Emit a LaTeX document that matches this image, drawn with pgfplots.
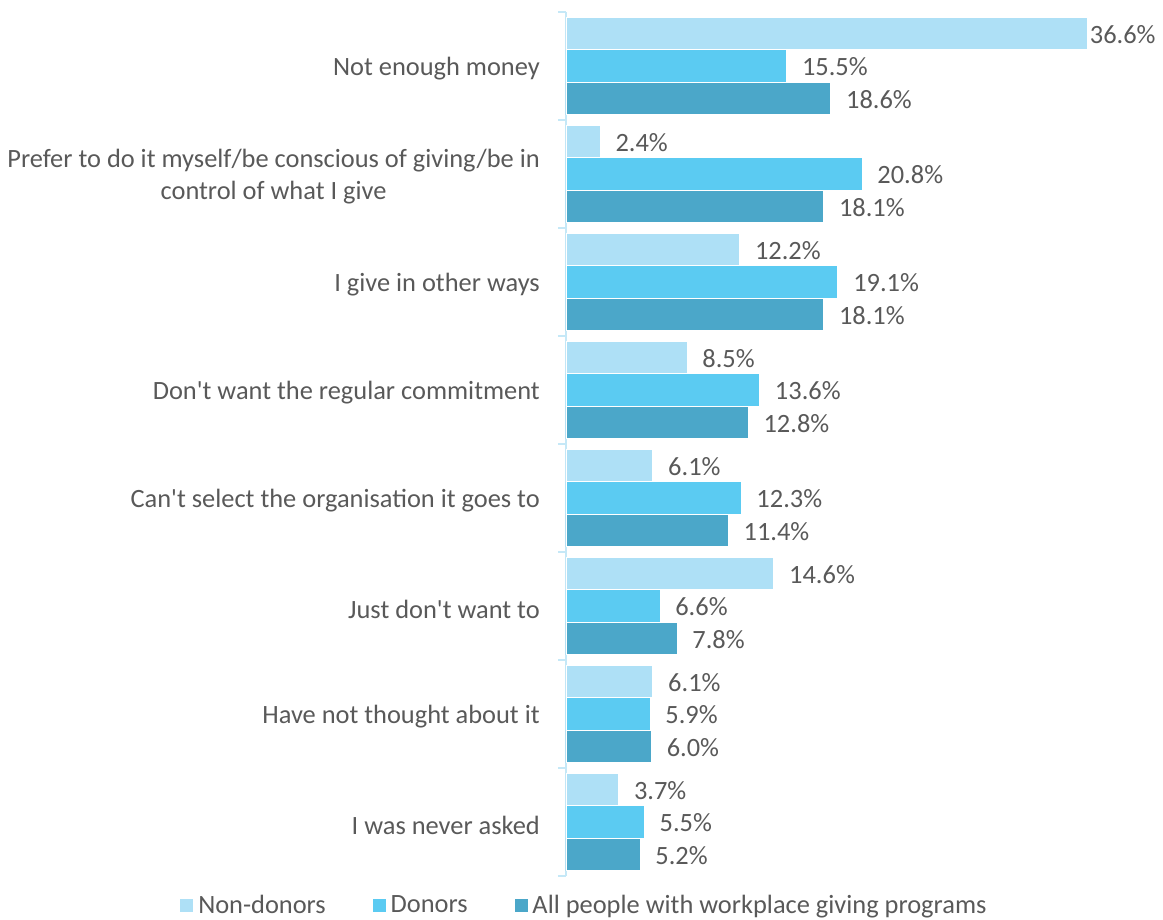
\documentclass[border=0pt]{standalone}
\usepackage{pgfplots}
\pgfplotsset{compat=1.18}
\usepackage{pgfplotstable}
\usepackage{fontspec}
\setmainfont{Carlito}[Ligatures=TeXOff]
\definecolor{cA}{HTML}{AEE0F6}
\definecolor{cB}{HTML}{5BCBF2}
\definecolor{cC}{HTML}{4BA7C9}
\definecolor{axc}{HTML}{C5E8F7}
\definecolor{txt}{HTML}{595959}
\newcommand\lf{\fontsize{26.4}{32}\selectfont}
\pgfplotstableread{
y x off
0 36.6 2.5
1 2.4 15
2 12.2 15
3 8.5 15
4 6.1 15
5 14.6 15
6 6.1 15
7 3.7 15
}\nondonors
\pgfplotstableread{
y x off
0 15.5 15
1 20.8 15
2 19.1 15
3 13.6 15
4 12.3 15
5 6.6 15
6 5.9 15
7 5.5 15
}\donors
\pgfplotstableread{
y x off
0 18.6 15
1 18.1 15
2 18.1 15
3 12.8 15
4 11.4 15
5 7.8 15
6 6.0 15
7 5.2 15
}\allpeople
\begin{document}
\begin{tikzpicture}
\useasboundingbox (-566pt,-44pt) rectangle (597pt,876pt);
\begin{axis}[
  scale only axis, width=521pt, height=864pt,
  xmin=0, xmax=36.6, ymin=-0.5, ymax=7.5, y dir=reverse,
  xbar, bar width=32.5pt,
  hide x axis, axis y line*=left,
  axis line style={axc, line width=1.5pt},
  ytick={0,...,7},
  yticklabels={{Not enough money},{Prefer to do it myself/be conscious of giving/be in\\control of what I give},{I give in other ways},{Don't want the regular commitment},{Can't select the organisation it goes to},{Just don't want to},{Have not thought about it},{I was never asked}},
  yticklabel style={align=center, inner sep=0pt, xshift=-26pt, yshift=-3pt, font=\lf, text=txt},
  major tick length=0pt, major tick style={draw=none},
  minor ytick={-0.5,0.5,...,7.5}, minor tick length=8pt, tick align=outside,
  minor tick style={axc, line width=1.5pt},
  point meta=x,
  visualization depends on={\thisrow{off} \as \off},
  nodes near coords={\pgfmathprintnumber[fixed,fixed zerofill,precision=1,assume math mode=true]{\pgfplotspointmeta}\%},
  nodes near coords style={anchor=west, inner sep=0pt, xshift=\off pt, yshift=-1pt, font=\lf, text=txt},
  legend style={at={(axis description cs:0.0345,-0.0336)}, anchor=center, draw=none, fill=none, legend columns=-1, font=\lf, text=txt, /tikz/every even column/.append style={column sep=44pt}, /tikz/every odd column/.append style={column sep=2pt}},
  legend image code/.code={\fill[#1] (0pt,-7pt) rectangle (14pt,7pt);},
  clip=false,
]
\addplot[fill=cA, draw=white, line width=0.8pt, bar shift=32.5pt] table[x=x,y=y] {\nondonors};
\addplot[fill=cB, draw=white, line width=0.8pt, bar shift=0pt] table[x=x,y=y] {\donors};
\addplot[fill=cC, draw=white, line width=0.8pt, bar shift=-32.5pt] table[x=x,y=y] {\allpeople};
\legend{Non-donors, Donors, All people with workplace giving programs}
\end{axis}
\end{tikzpicture}
\end{document}
